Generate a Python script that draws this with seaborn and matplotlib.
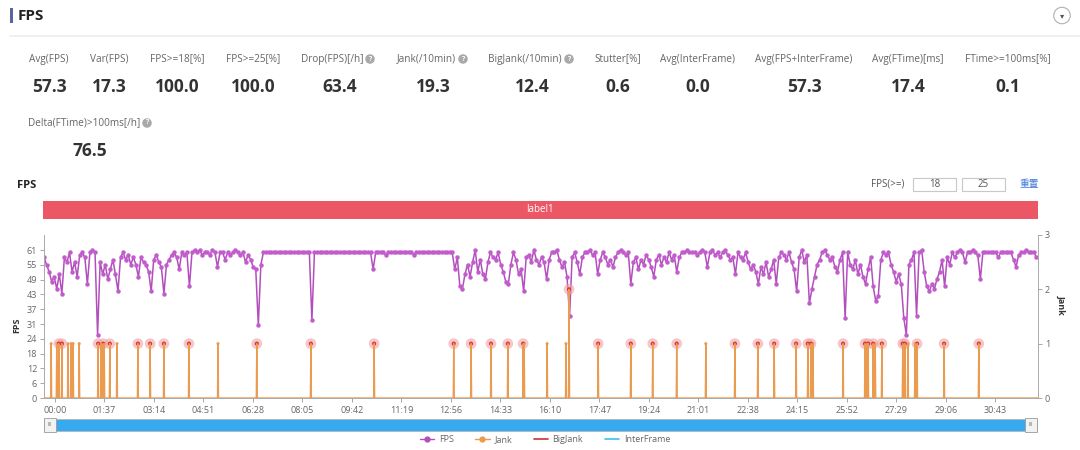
import numpy as np
import pandas as pd
import seaborn as sns
import matplotlib.pyplot as plt
from matplotlib.lines import Line2D
from matplotlib.patches import Rectangle

W, H = 1080, 450

# --- summary metrics in the header ---
stat_labels = ['Avg(FPS)', 'Var(FPS)', 'FPS>=18[%]', 'FPS>=25[%]', 'Drop(FPS)[/h]',
               'Jank(/10min)', 'BigJank(/10min)', 'Stutter[%]', 'Avg(InterFrame)',
               'Avg(FPS+InterFrame)', 'Avg(FTime)[ms]', 'FTime>=100ms[%]']
stat_values = ['57.3', '17.3', '100.0', '100.0', '63.4', '19.3', '12.4', '0.6', '0.0',
               '57.3', '17.4', '0.1']
stat_help = [False, False, False, False, True, True, True, False, False, False, False, False]
extra_label = 'Delta(FTime)>100ms[/h]'
extra_value = '76.5'

# --- FPS samples, one every 5 s ---
fps_step = 5
fps = [
    58, 55, 52, 48, 50, 45, 51, 43, 58, 56,
    60, 52, 56, 50, 59, 60, 58, 47, 60, 61,
    60, 26, 56, 51, 55, 49, 53, 57, 51, 44,
    58, 60, 57, 59, 55, 58, 55, 50, 58, 56,
    55, 52, 44, 57, 59, 56, 54, 43, 55, 57,
    59, 60, 58, 53, 60, 59, 60, 46, 60, 61,
    60, 61, 59, 60, 60, 59, 61, 60, 54, 60,
    60, 57, 60, 59, 60, 61, 60, 59, 60, 56,
    59, 57, 54, 53, 30, 55, 60, 60, 60, 60,
    60, 60, 60, 60, 60, 60, 60, 60, 60, 60,
    60, 60, 60, 60, 60, 32, 60, 60, 60, 60,
    60, 60, 60, 60, 60, 60, 60, 60, 60, 60,
    60, 60, 60, 60, 60, 60, 60, 60, 60, 53,
    60, 60, 60, 60, 59, 60, 60, 60, 60, 60,
    60, 60, 60, 60, 60, 59, 60, 60, 60, 60,
    60, 60, 60, 60, 60, 60, 60, 60, 60, 60,
    60, 53, 58, 46, 45, 51, 55, 50, 56, 61,
    52, 57, 51, 49, 56, 60, 58, 57, 60, 55,
    52, 48, 47, 55, 60, 57, 51, 53, 44, 58,
    59, 56, 61, 57, 55, 58, 56, 49, 57, 60,
    60, 61, 57, 54, 56, 50, 34, 58, 60, 56,
    51, 58, 60, 60, 61, 59, 60, 51, 57, 60,
    58, 55, 57, 54, 58, 60, 61, 60, 59, 60,
    47, 56, 58, 53, 57, 55, 59, 57, 54, 50,
    57, 59, 55, 58, 56, 60, 57, 59, 52, 58,
    60, 60, 61, 60, 60, 60, 59, 60, 61, 60,
    54, 60, 61, 59, 60, 58, 60, 61, 59, 57,
    58, 51, 60, 58, 57, 60, 56, 53, 55, 52,
    47, 54, 51, 56, 50, 53, 57, 47, 58, 60,
    59, 57, 60, 56, 53, 44, 58, 61, 56, 59,
    39, 45, 50, 55, 57, 60, 61, 59, 57, 58,
    54, 52, 57, 60, 33, 60, 55, 53, 57, 51,
    55, 50, 47, 53, 58, 46, 40, 42, 57, 60,
    59, 60, 55, 52, 48, 51, 47, 33, 26, 55,
    57, 60, 34, 60, 61, 52, 46, 44, 47, 45,
    49, 52, 57, 46, 58, 55, 60, 58, 60, 61,
    60, 56, 60, 60, 61, 60, 59, 49, 60, 60,
    60, 60, 60, 60, 58, 60, 60, 60, 60, 60,
    57, 54, 59, 60, 60, 61, 60, 60, 60, 58,
]

# --- jank events (seconds) and their level; big janks are a subset ---
jank_t = [14, 25, 29, 35, 47, 53, 57, 69, 106, 112, 116, 118, 129, 143, 184, 208, 235, 284,
          341, 417, 523, 647, 803, 837, 876, 909, 939, 941, 986, 1023, 1029, 1086, 1150,
          1193, 1240, 1297, 1354, 1399, 1431, 1474, 1497, 1503, 1507, 1566, 1609, 1613,
          1615, 1625, 1629, 1642, 1683, 1687, 1693, 1707, 1711, 1764, 1832]
jank_v = [1] * 30 + [2] + [1] * 26
bigjank_t = [29, 35, 106, 116, 129, 184, 208, 235, 284, 417, 523, 647, 803, 837, 876, 909,
             939, 1029, 1086, 1150, 1193, 1240, 1354, 1399, 1431, 1474, 1497, 1503, 1566,
             1609, 1615, 1625, 1642, 1683, 1687, 1711, 1764, 1832]

x_end = 1948
tick_labels = ['00:00', '01:37', '03:14', '04:51', '06:28', '08:05', '09:42', '11:19',
               '12:56', '14:33', '16:10', '17:47', '19:24', '21:01', '22:38', '24:15',
               '25:52', '27:29', '29:06', '30:43']
tick_step = 97
tick_offset = 21.5   # labels sit a little right of the first sample, as in the source
fps_ticklabels = ['0', '6', '12', '18', '24', '31', '37', '43', '49', '55', '61']

FPS_C = '#b24fbd'
JANK_C = '#eb9b50'
BIG_C = '#d9363e'
GRAY = '#666666'

sns.set_theme(style='white')
plt.rcParams['font.family'] = ['Open Sans', 'Noto Sans CJK SC', 'DejaVu Sans']


def fx(x):
    return x / W


def fy(y):
    return 1 - y / H


fig = plt.figure(figsize=(W / 100, H / 100), dpi=100)

# --- header ---
fig.patches.append(Rectangle((fx(10), fy(23)), 3 / W, 15 / H, transform=fig.transFigure,
                             fc='#56679f', ec='none'))
fig.text(fx(18), fy(15.5), 'FPS', fontsize=11, fontweight='bold', color='#222222', va='center')
fig.text(fx(1062), fy(15.5), '\u25be', fontsize=6, color='#555555', ha='center', va='center',
         family='DejaVu Sans',
         bbox=dict(boxstyle='circle,pad=0.45', fc='white', ec='#b0b0b0', lw=0.8))
fig.add_artist(Line2D([fx(10), fx(1080)], [fy(36), fy(36)], color='#eeeeee', lw=1.2,
                      transform=fig.transFigure))

stat_x = [49, 109, 177, 253, 340, 433, 532, 618, 698, 804, 908, 1008]
help_x = {4: 370, 5: 463, 6: 569}


def help_icon(x, y):
    fig.text(fx(x), fy(y), '?', fontsize=5, color='white', fontweight='bold',
             ha='center', va='center',
             bbox=dict(boxstyle='circle,pad=0.18', fc='#a9a9a9', ec='none'))


for i, (lab, val) in enumerate(zip(stat_labels, stat_values)):
    if stat_help[i]:
        fig.text(fx(help_x[i] - 7), fy(59), lab, fontsize=7.2, color=GRAY, ha='right', va='center')
        help_icon(help_x[i], 59)
    else:
        fig.text(fx(stat_x[i]), fy(59), lab, fontsize=7.2, color=GRAY, ha='center', va='center')
    fig.text(fx(stat_x[i]), fy(87), val, fontsize=12.5, fontweight='bold', color='#333333',
             ha='center', va='center')

fig.text(fx(140), fy(123), extra_label, fontsize=7.2, color=GRAY, ha='right', va='center')
help_icon(147, 123)
fig.text(fx(90), fy(151), extra_value, fontsize=12.5, fontweight='bold', color='#333333',
         ha='center', va='center')

# --- chart toolbar ---
fig.text(fx(17), fy(185.5), 'FPS', fontsize=8, fontweight='bold', color='#222222', va='center')
fig.text(fx(888), fy(184.5), 'FPS(>=)', fontsize=7, color='#555555', ha='center', va='center')
for x0, x1, txt in [(913, 956, '18'), (962, 1005, '25')]:
    fig.patches.append(Rectangle((fx(x0), fy(191)), (x1 - x0) / W, 13 / H,
                                 transform=fig.transFigure, fc='white', ec='#c8c8c8', lw=0.8))
    fig.text(fx((x0 + x1) / 2), fy(184.5), txt, fontsize=7, color='#555555',
             ha='center', va='center')
fig.text(fx(1029), fy(184), '重置', fontsize=7, color='#3f78d6', ha='center', va='center',
         family=['Noto Sans CJK SC', 'DejaVu Sans'])

fig.patches.append(Rectangle((fx(43), fy(219)), 995 / W, 18 / H, transform=fig.transFigure,
                             fc='#ec5766', ec='none'))
fig.text(fx(540), fy(210), 'label1', fontsize=7, color='white', ha='center', va='center')

# --- main chart ---
ax = fig.add_axes([fx(44), fy(398), 994 / W, 163 / H])
df_fps = pd.DataFrame({'t': np.arange(len(fps)) * fps_step, 'fps': fps})
sns.lineplot(data=df_fps, x='t', y='fps', ax=ax, color=FPS_C, lw=1.1, marker='o',
             markersize=3.2, markeredgewidth=0, markerfacecolor='#c25bcb',
             estimator=None, sort=False)
ax.set_xlim(0, x_end)
ax.set_ylim(0, 67.2)
ax.set_yticks(np.arange(11) * 6.1)
ax.set_yticklabels(fps_ticklabels)
ax.set_xticks(tick_offset + tick_step * np.arange(len(tick_labels)))
ax.set_xticklabels(tick_labels)
ax.set_xlabel('')
ax.set_ylabel('')
ax.tick_params(axis='both', length=3, width=0.6, color='#999999', labelsize=6.5,
               labelcolor=GRAY, pad=2, bottom=True, left=True)
ax.tick_params(axis='x', pad=3)
for s in ['top', 'right']:
    ax.spines[s].set_visible(False)
for s in ['left', 'bottom']:
    ax.spines[s].set_color('#aaaaaa')
    ax.spines[s].set_linewidth(0.7)

ax2 = ax.twinx()
jank_grid = np.arange(0, x_end + 1)
jank_series = np.zeros(len(jank_grid))
jank_series[jank_t] = jank_v
sns.lineplot(x=jank_grid, y=jank_series, ax=ax2, color=JANK_C, lw=1.0,
             estimator=None, sort=False)
sns.scatterplot(x=jank_t, y=jank_v, ax=ax2, color=JANK_C, s=5, edgecolor='none')
big_v = [jank_v[jank_t.index(t)] for t in bigjank_t]
sns.scatterplot(x=bigjank_t, y=big_v, ax=ax2, color='#f2a0a0', s=60, alpha=0.6,
                edgecolor='none')
sns.scatterplot(x=bigjank_t, y=big_v, ax=ax2, color=BIG_C, s=9, edgecolor='none')
ax2.set_ylim(0, 3)
ax2.set_xlim(0, x_end)
ax2.set_yticks([0, 1, 2, 3])
ax2.set_ylabel('')
ax2.tick_params(axis='y', length=3, width=0.6, color='#999999', labelsize=6.5,
                labelcolor=GRAY, pad=2, right=True)
for s in ['top', 'left', 'bottom']:
    ax2.spines[s].set_visible(False)
ax2.spines['right'].set_color('#aaaaaa')
ax2.spines['right'].set_linewidth(0.7)

fig.text(fx(17), fy(325), 'FPS', fontsize=6.5, fontweight='bold', color='#333333',
         rotation=90, ha='center', va='center')
fig.text(fx(1061), fy(305), 'Jank', fontsize=6.5, fontweight='bold', color='#333333',
         rotation=-90, ha='center', va='center')

# --- zoom slider ---
fig.patches.append(Rectangle((fx(44), fy(431)), 993 / W, 12 / H, transform=fig.transFigure,
                             fc='#37a9ef', ec='#b5b5b5', lw=0.6))
for hx in [44, 1025]:
    fig.patches.append(Rectangle((fx(hx), fy(432)), 12 / W, 14 / H, transform=fig.transFigure,
                                 fc='#f2f2f2', ec='#9a9a9a', lw=0.6))
    fig.text(fx(hx + 6), fy(425), 'III', fontsize=4, color='#777777', ha='center', va='center')

# --- legend ---
handles = [
    Line2D([], [], color=FPS_C, marker='o', ms=3.5, lw=1),
    Line2D([], [], color=JANK_C, marker='o', ms=3.5, lw=1),
    Line2D([], [], color='#c9303a', lw=1.2),
    Line2D([], [], color='#3fc0ee', lw=1.2),
]
fig.legend(handles, ['FPS', 'Jank', 'BigJank', 'InterFrame'], loc='center',
           bbox_to_anchor=(fx(545), fy(440)), ncol=4, frameon=False, fontsize=6.5,
           handlelength=1.6, columnspacing=2.4, handletextpad=0.5, labelcolor=GRAY)

fig.savefig('out.png', dpi=100)
